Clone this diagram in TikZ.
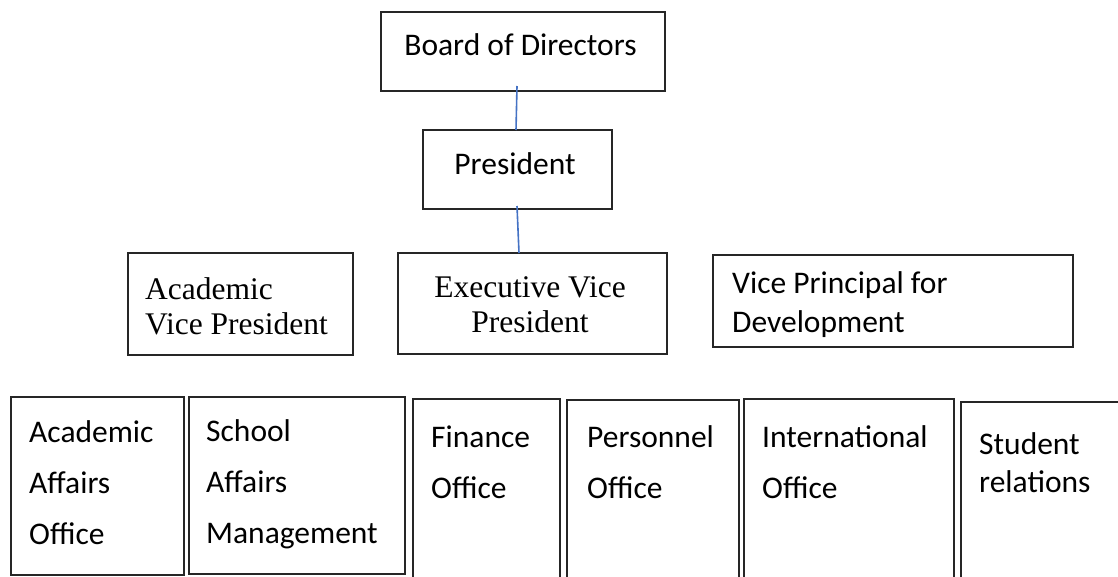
\documentclass[tikz,border=0pt]{standalone}
\usepackage{fontspec}
\setmainfont{Carlito}
\newfontfamily\serifface{Liberation Serif}
\definecolor{linkblue}{HTML}{4472C4}
\begin{document}
\begin{tikzpicture}[x=1pt,y=-1pt,
  box/.style={draw=black!85,line width=1.1pt,inner sep=0pt,outer sep=0pt},
  txt/.style={inner sep=0pt,align=flush left,text width=#1},
  txt/.default=220pt,
  mid/.style={align=flush center},
  sans/.style={font=\fontsize{31.5}{51}\selectfont},
  tight/.style={font=\fontsize{31.5}{38.5}\selectfont},
  roman/.style={font=\serifface\fontsize{31.5}{35}\selectfont},
  link/.style={draw=linkblue,line width=1.6pt}]
\useasboundingbox (0,0) rectangle (1118,576);

% boxes
\node[box,minimum width=284pt,minimum height=79pt]  (board) at (523,51.5)   {};
\node[box,minimum width=189pt,minimum height=79pt]  (pres)  at (517.5,169.5) {};
\node[box,minimum width=225pt,minimum height=102pt] (avp)   at (240.5,304)  {};
\node[box,minimum width=269pt,minimum height=101pt] (evp)   at (532.5,303.5) {};
\node[box,minimum width=360pt,minimum height=92pt]  (vpd)   at (893,301)    {};
\node[box,minimum width=173pt,minimum height=178pt] (aao)   at (97.5,486)   {};
\node[box,minimum width=216pt,minimum height=177pt] (sam)   at (297,485.5)  {};
\node[box,minimum width=147pt,minimum height=201pt] (fin)   at (486.5,499.5) {};
\node[box,minimum width=172pt,minimum height=200pt] (per)   at (653,500)    {};
\node[box,minimum width=210pt,minimum height=201pt] (int)   at (849,499.5)  {};
\node[box,minimum width=169pt,minimum height=198pt] (stu)   at (1045.5,501) {};

% labels
\node[txt=280pt,sans,mid,anchor=base] (tboard) at (520.5,55) {Board of Directors};
\node[txt=180pt,sans,mid,anchor=base] (tpres)  at (515,174)  {President};
\node[txt,roman,anchor=base west] (tavp) at (145,299) {Academic\\Vice President};
\node[txt=260pt,roman,mid,anchor=base] (tevp) at (530,297) {Executive Vice\\President};
\node[txt=340pt,font=\fontsize{31.5}{39}\selectfont,anchor=base west] (tvpd) at (732,293) {Vice Principal for\\Development};
\node[txt,sans,anchor=base west] (taao) at (29,442)  {Academic\\Affairs\\Office};
\node[txt,sans,anchor=base west] (tsam) at (206,441) {School\\Affairs\\Management};
\node[txt,sans,anchor=base west] (tfin) at (431,447) {Finance\\Office};
\node[txt,sans,anchor=base west] (tper) at (587,447) {Personnel\\Office};
\node[txt,sans,anchor=base west] (tint) at (762,447) {International\\Office};
\node[txt,tight,anchor=base west] (tstu) at (979,454) {Student\\relations};

% reporting lines
\draw[link] ([xshift=-6pt,yshift=5pt]board.south) -- ([xshift=-1.5pt]pres.north);
\draw[link] ([xshift=-0.5pt,yshift=3pt]pres.south) -- ([xshift=-13.5pt]evp.north);
\end{tikzpicture}
\end{document}
